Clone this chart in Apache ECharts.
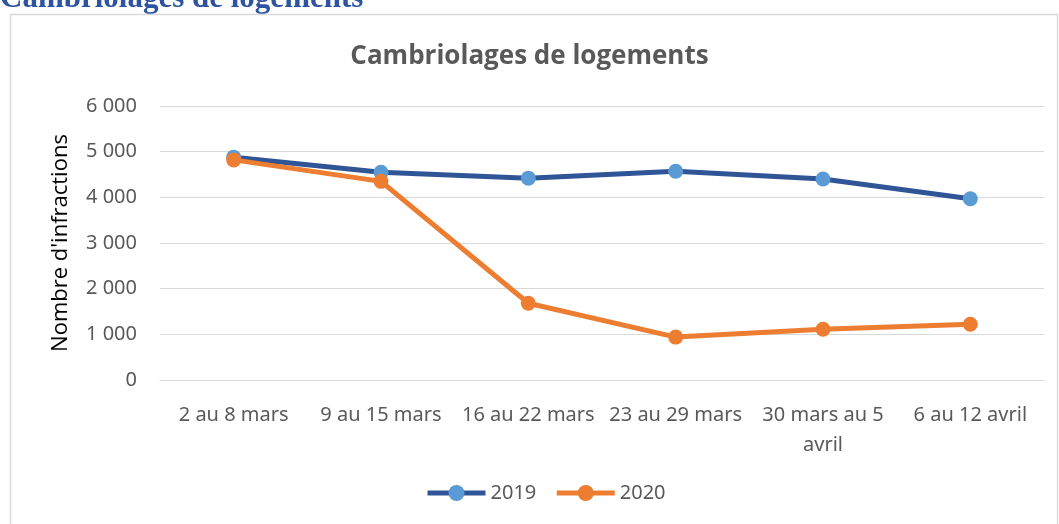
<!DOCTYPE html>
<html>
<head>
<meta charset="utf-8">
<script src="https://cdn.jsdelivr.net/npm/echarts@6/dist/echarts.min.js"></script>
<style>
  html, body { margin: 0; padding: 0; background: #fff; }
  #chart { width: 1059px; height: 524px; }
</style>
</head>
<body>
<div id="chart"></div>
<script>
// données
const categories = ['2 au 8 mars', '9 au 15 mars', '16 au 22 mars', '23 au 29 mars', '30 mars au 5 avril', '6 au 12 avril']
const values2019 = [4880, 4550, 4420, 4570, 4400, 3970]
const values2020 = [4820, 4350, 1680, 940, 1110, 1220]
const yTicks = [0, 1000, 2000, 3000, 4000, 5000, 6000]

const labelFont = '"Noto Sans", sans-serif'

const chart = echarts.init(document.getElementById('chart'))

const options = {
  animation: false,
  graphic: [
    // titre de la section (coupé en haut)
    {
      type: 'text',
      left: 0,
      top: -17,
      style: {
        text: 'Cambriolages de logements',
        font: 'bold 31px "Liberation Serif", "DejaVu Serif", serif',
        fill: '#2E54A1'
      }
    },
    // cadre du graphique
    {
      type: 'rect',
      shape: { x: 10.5, y: 14.5, width: 1047, height: 530 },
      style: { fill: 'none', stroke: '#D9D9D9', lineWidth: 1.5 }
    }
  ],
  title: {
    text: 'Cambriolages de logements',
    left: 'center',
    top: 39,
    textStyle: {
      fontFamily: '"Open Sans", "Noto Sans", sans-serif',
      fontWeight: 'bold',
      fontSize: 26,
      color: '#595959'
    }
  },
  legend: {
    bottom: 16,
    left: 420,
    itemWidth: 58,
    itemHeight: 20,
    itemGap: 18,
    lineStyle: { width: 5 },
    textStyle: { fontFamily: labelFont, fontSize: 20, color: '#595959' },
    data: ['2019', '2020']
  },
  grid: {
    left: 160,
    right: 15,
    top: 106,
    bottom: 144
  },
  xAxis: {
    type: 'category',
    data: categories,
    axisLine: { lineStyle: { color: '#D9D9D9' } },
    axisTick: { show: false },
    axisLabel: {
      interval: 0,
      margin: 20,
      fontFamily: labelFont,
      fontSize: 20,
      lineHeight: 30,
      color: '#595959',
      formatter: function (v) {
        if (v.length > 15) {
          const i = v.lastIndexOf(' ')
          return v.slice(0, i) + '\n' + v.slice(i + 1)
        }
        return v
      }
    }
  },
  yAxis: {
    type: 'value',
    min: yTicks[0],
    max: yTicks[yTicks.length - 1],
    interval: 1000,
    name: "Nombre d'infractions",
    nameLocation: 'middle',
    nameGap: 88,
    nameTextStyle: { fontFamily: '"Open Sans", "Noto Sans", sans-serif', fontSize: 22, color: '#000' },
    axisLine: { show: false },
    axisTick: { show: false },
    splitLine: { lineStyle: { color: '#D9D9D9', width: 1 } },
    axisLabel: {
      margin: 23,
      fontFamily: labelFont,
      fontSize: 20,
      color: '#595959',
      formatter: function (v) {
        return String(v).replace(/\B(?=(\d{3})+(?!\d))/g, ' ')
      }
    }
  },
  series: [
    {
      name: '2019',
      type: 'line',
      data: values2019,
      symbol: 'circle',
      symbolSize: 15,
      lineStyle: { color: '#2F5597', width: 5 },
      itemStyle: { color: '#5B9BD5' },
      z: 3
    },
    {
      name: '2020',
      type: 'line',
      data: values2020,
      symbol: 'circle',
      symbolSize: 15,
      lineStyle: { color: '#ED7D31', width: 5 },
      itemStyle: { color: '#ED7D31' },
      z: 4
    }
  ]
}

chart.setOption(options)
</script>
</body>
</html>
